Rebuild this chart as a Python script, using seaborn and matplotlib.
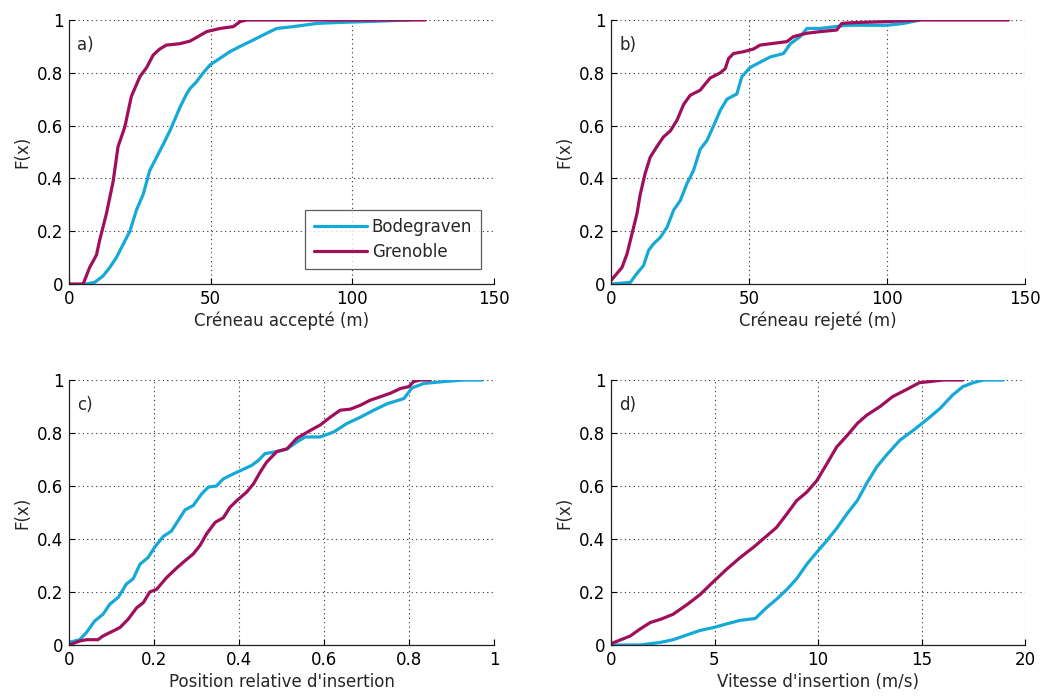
import numpy as np
import pandas as pd
import matplotlib
matplotlib.use("Agg")
import matplotlib.pyplot as plt
import seaborn as sns

sns.set_theme(style="white")
plt.rcParams['font.family'] = ['DejaVu Sans']

SERIES = ["Bodegraven", "Grenoble"]
COLORS = {"Bodegraven": "#16a9d8", "Grenoble": "#9e0f5c"}

# ---- Panel a: Créneau accepté (m) ----
a_bod_x = [6, 9, 12, 14.4, 16.7, 19.1, 21.5, 23.8, 26.2, 28.5, 30.9, 33.3, 35.6, 36.8, 39.2, 41.5,
           42.7, 45, 47.4, 49.8, 53.3, 56.8, 60.4, 65, 69.8, 73.3, 79.2, 87.5, 93.4, 105, 120]
a_bod_y = [0, 0.006, 0.03, 0.063, 0.10, 0.15, 0.20, 0.28, 0.34, 0.43, 0.48, 0.53, 0.58, 0.61, 0.67, 0.72,
           0.74, 0.766, 0.80, 0.83, 0.855, 0.88, 0.90, 0.924, 0.95, 0.968, 0.975, 0.987, 0.99, 0.994, 1.0]
a_gre_x = [0, 5, 7.3, 9.7, 10.8, 13.2, 15.6, 17.3, 19.7, 22, 25, 27.4, 29.7, 32, 34.4, 39, 42.7, 46,
           48.6, 53.3, 58, 60.4, 62.7, 125.8]
a_gre_y = [0, 0, 0.063, 0.11, 0.165, 0.266, 0.39, 0.52, 0.595, 0.71, 0.785, 0.82, 0.867, 0.89, 0.905,
           0.91, 0.92, 0.94, 0.956, 0.968, 0.975, 0.994, 1.0, 1.0]

# ---- Panel b: Créneau rejeté (m) ----
b_bod_x = [0, 7, 9.4, 11.8, 13.6, 15.4, 17.9, 20.3, 22.7, 25.1, 27.5, 29.9, 32.3, 34.8, 37.2, 39.6, 42,
           45.6, 47.4, 50.4, 54, 57.7, 62.5, 65, 68.5, 71, 75.8, 85.4, 100, 106, 112]
b_bod_y = [0, 0.006, 0.04, 0.07, 0.127, 0.152, 0.177, 0.215, 0.28, 0.316, 0.38, 0.43, 0.51, 0.544, 0.60,
           0.658, 0.70, 0.72, 0.785, 0.82, 0.84, 0.86, 0.873, 0.91, 0.937, 0.968, 0.968, 0.98, 0.98, 0.987, 1.0]
b_gre_x = [0, 4, 5.8, 7.6, 9.4, 10.6, 12.4, 14.2, 16.6, 19, 21.5, 23.9, 26.3, 28.7, 32.3, 35.9, 39.6,
           41.4, 42.6, 44.4, 48, 51.6, 54, 57.7, 63.7, 66.1, 71, 75.8, 81.8, 83.6, 87.8, 100, 112, 144]
b_gre_y = [0.013, 0.063, 0.114, 0.19, 0.266, 0.34, 0.42, 0.48, 0.52, 0.557, 0.58, 0.62, 0.68, 0.715,
           0.734, 0.78, 0.80, 0.816, 0.854, 0.873, 0.88, 0.89, 0.905, 0.91, 0.918, 0.937, 0.95, 0.956,
           0.962, 0.987, 0.99, 0.994, 1.0, 1.0]

# ---- Panel c: Position relative d'insertion ----
c_bod_x = [0, 0.025, 0.041, 0.06, 0.08, 0.096, 0.116, 0.135, 0.151, 0.167, 0.186, 0.202, 0.222, 0.241,
           0.257, 0.273, 0.292, 0.312, 0.328, 0.347, 0.363, 0.387, 0.406, 0.43, 0.446, 0.461, 0.489,
           0.513, 0.536, 0.556, 0.591, 0.623, 0.654, 0.686, 0.717, 0.748, 0.788, 0.807, 0.835, 0.882,
           0.929, 0.972]
c_bod_y = [0.01, 0.02, 0.047, 0.09, 0.116, 0.154, 0.18, 0.23, 0.25, 0.305, 0.33, 0.37, 0.41, 0.43, 0.47,
           0.51, 0.526, 0.57, 0.596, 0.60, 0.627, 0.646, 0.66, 0.678, 0.697, 0.722, 0.73, 0.74, 0.766,
           0.785, 0.785, 0.804, 0.836, 0.86, 0.886, 0.91, 0.93, 0.97, 0.987, 0.994, 1.0, 1.0]
c_gre_x = [0, 0.025, 0.041, 0.068, 0.08, 0.104, 0.12, 0.139, 0.159, 0.175, 0.19, 0.206, 0.23, 0.253,
           0.273, 0.292, 0.308, 0.324, 0.344, 0.363, 0.379, 0.395, 0.418, 0.434, 0.45, 0.465, 0.489,
           0.513, 0.536, 0.568, 0.591, 0.615, 0.638, 0.662, 0.686, 0.709, 0.733, 0.756, 0.78, 0.80,
           0.811, 0.827, 0.85]
c_gre_y = [0, 0.015, 0.02, 0.02, 0.034, 0.053, 0.066, 0.097, 0.14, 0.16, 0.20, 0.21, 0.255, 0.29, 0.318,
           0.343, 0.375, 0.42, 0.463, 0.48, 0.52, 0.545, 0.577, 0.608, 0.653, 0.69, 0.73, 0.74, 0.78,
           0.81, 0.83, 0.86, 0.886, 0.89, 0.905, 0.924, 0.937, 0.95, 0.968, 0.975, 0.994, 1.0, 1.0]

# ---- Panel d: Vitesse d'insertion (m/s) ----
d_bod_x = [0, 1.4, 2.4, 3.0, 3.67, 4.3, 4.96, 5.6, 6.24, 6.97, 7.5, 8.0, 8.5, 8.97, 9.46, 9.94, 10.43,
           10.9, 11.4, 11.9, 12.35, 12.84, 13.3, 13.96, 14.6, 15.25, 15.9, 16.5, 17.0, 17.5, 18.0, 18.95]
d_bod_y = [0, 0, 0.01, 0.02, 0.038, 0.055, 0.066, 0.08, 0.093, 0.10, 0.14, 0.173, 0.21, 0.25, 0.305,
           0.35, 0.394, 0.44, 0.495, 0.545, 0.61, 0.672, 0.716, 0.773, 0.81, 0.85, 0.893, 0.943, 0.975,
           0.99, 1.0, 1.0]
d_gre_x = [0, 0.93, 1.4, 1.9, 2.4, 3.0, 3.7, 4.3, 4.96, 5.6, 6.24, 6.9, 7.5, 8.0, 8.5, 8.97, 9.46, 9.94,
           10.43, 10.9, 11.4, 11.9, 12.35, 13.0, 13.6, 14.3, 14.9, 15.4, 16.06, 17.0]
d_gre_y = [0.005, 0.034, 0.06, 0.085, 0.097, 0.116, 0.154, 0.19, 0.24, 0.287, 0.33, 0.37, 0.41, 0.444,
           0.495, 0.545, 0.577, 0.62, 0.684, 0.747, 0.79, 0.836, 0.867, 0.90, 0.937, 0.965, 0.99, 0.994,
           1.0, 1.0]

panels = [
    ("a)", "Créneau accepté (m)", (0, 150), [0, 50, 100, 150], ["0", "50", "100", "150"],
     a_bod_x, a_bod_y, a_gre_x, a_gre_y, True),
    ("b)", "Créneau rejeté (m)", (0, 150), [0, 50, 100, 150], ["0", "50", "100", "150"],
     b_bod_x, b_bod_y, b_gre_x, b_gre_y, False),
    ("c)", "Position relative d'insertion", (0, 1), [0, 0.2, 0.4, 0.6, 0.8, 1],
     ["0", "0.2", "0.4", "0.6", "0.8", "1"], c_bod_x, c_bod_y, c_gre_x, c_gre_y, False),
    ("d)", "Vitesse d'insertion (m/s)", (0, 20), [0, 5, 10, 15, 20], ["0", "5", "10", "15", "20"],
     d_bod_x, d_bod_y, d_gre_x, d_gre_y, False),
]

yticks = [0, 0.2, 0.4, 0.6, 0.8, 1]
ylabels = ["0", "0.2", "0.4", "0.6", "0.8", "1"]

W, H = 1057, 698
fig = plt.figure(figsize=(W / 100, H / 100), dpi=100)
fig.patch.set_facecolor("white")

# axes rectangles in pixels: (left, top, right, bottom)
rects = [(69, 20, 494, 284), (611, 20, 1025, 284), (69, 380, 494, 645), (611, 380, 1025, 645)]

for (lab, xlabel, xlim, xt, xtl, bx, by, gx, gy, legend), (l, t, r, b) in zip(panels, rects):
    ax = fig.add_axes([l / W, 1 - b / H, (r - l) / W, (b - t) / H])
    df = pd.concat([
        pd.DataFrame({"x": bx, "F": by, "site": "Bodegraven"}),
        pd.DataFrame({"x": gx, "F": gy, "site": "Grenoble"}),
    ], ignore_index=True)
    sns.lineplot(data=df, x="x", y="F", hue="site", hue_order=SERIES, palette=COLORS,
                 sort=False, estimator=None, linewidth=2.3, ax=ax, legend=legend)
    ax.set_xlim(*xlim)
    ax.set_ylim(0, 1)
    ax.set_xticks(xt)
    ax.set_xticklabels(xtl)
    ax.set_yticks(yticks)
    ax.set_yticklabels(ylabels)
    ax.set_xlabel(xlabel, fontsize=12, labelpad=3)
    ax.set_ylabel("F(x)", fontsize=12, labelpad=4)
    ax.tick_params(axis="both", direction="in", length=4, width=0.8, labelsize=12,
                   bottom=True, left=True, top=False, right=False, colors="black", pad=4)
    ax.grid(True, linestyle=(0, (1, 3)), color="#333333", linewidth=0.8)
    ax.set_axisbelow(True)
    for s in ["top", "right"]:
        ax.spines[s].set_visible(False)
    for s in ["left", "bottom"]:
        ax.spines[s].set_color("#222222")
        ax.spines[s].set_linewidth(0.9)
    ax.text(0.02, 0.905, lab, transform=ax.transAxes, fontsize=12, va="center", ha="left")
    if legend:
        leg = ax.legend(loc="lower right", bbox_to_anchor=(0.988, 0.025), fontsize=12,
                        frameon=True, fancybox=False, handlelength=3.2, borderpad=0.5,
                        labelspacing=0.4, handletextpad=0.3)
        leg.get_frame().set_edgecolor("#333333")
        leg.get_frame().set_linewidth(0.9)
        for h in leg.get_lines():
            h.set_linewidth(2.3)

fig.savefig("out.png", dpi=100, facecolor="white")
